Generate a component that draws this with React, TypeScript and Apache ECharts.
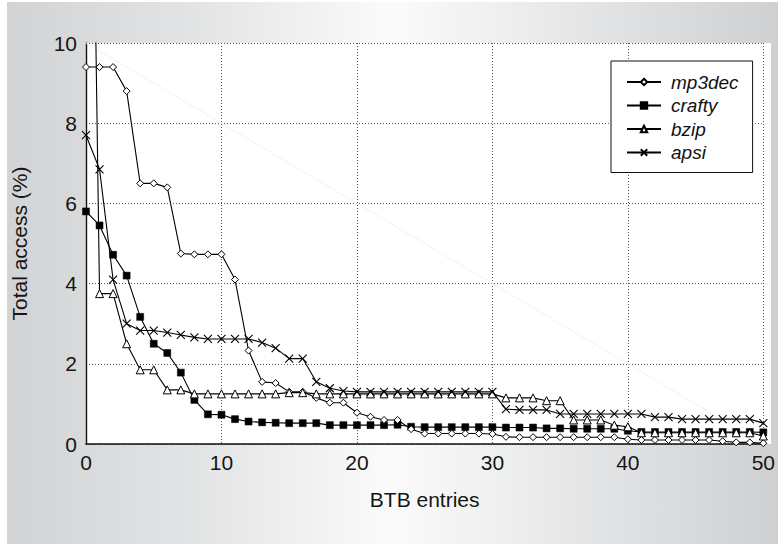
import React, { useEffect, useRef } from "react";
import * as echarts from "echarts";

const FONT = '"Liberation Sans", Arial, Helvetica, sans-serif';

// BTB entries on the x axis
const entries = [
  0, 1, 2, 3, 4, 5, 6, 7, 8, 9, 10, 11, 12, 13, 14, 15, 16, 17, 18, 19, 20,
  21, 22, 23, 24, 25, 26, 27, 28, 29, 30, 31, 32, 33, 34, 35, 36, 37, 38, 39,
  40, 41, 42, 43, 44, 45, 46, 47, 48, 49, 50,
];

// Total access (%) per benchmark
const mp3dec = [
  9.4, 9.4, 9.4, 8.8, 6.5, 6.5, 6.4, 4.75, 4.73, 4.73, 4.73, 4.1, 2.33, 1.55,
  1.52, 1.3, 1.3, 1.15, 1.03, 1.03, 0.78, 0.68, 0.6, 0.6, 0.37, 0.26, 0.26,
  0.26, 0.26, 0.26, 0.25, 0.18, 0.17, 0.17, 0.17, 0.17, 0.17, 0.17, 0.17, 0.17,
  0.12, 0.1, 0.1, 0.1, 0.1, 0.1, 0.1, 0.07, 0.04, 0.04, 0.02,
];
const crafty = [
  5.8, 5.45, 4.72, 4.2, 3.17, 2.5, 2.27, 1.78, 1.1, 0.74, 0.73, 0.62, 0.56,
  0.54, 0.53, 0.52, 0.52, 0.52, 0.47, 0.47, 0.47, 0.47, 0.47, 0.48, 0.43, 0.42,
  0.42, 0.42, 0.42, 0.42, 0.42, 0.41, 0.41, 0.41, 0.39, 0.39, 0.38, 0.38, 0.38,
  0.38, 0.33, 0.3, 0.3, 0.3, 0.3, 0.3, 0.3, 0.3, 0.3, 0.3, 0.29,
];
const bzip = [
  27, 3.75, 3.75, 2.5, 1.85, 1.85, 1.35, 1.35, 1.25, 1.25, 1.25, 1.25, 1.25,
  1.25, 1.25, 1.28, 1.28, 1.25, 1.25, 1.25, 1.25, 1.25, 1.25, 1.25, 1.25, 1.25,
  1.25, 1.25, 1.25, 1.25, 1.25, 1.15, 1.15, 1.15, 1.08, 1.08, 0.6, 0.6, 0.6,
  0.47, 0.43, 0.28, 0.28, 0.28, 0.28, 0.28, 0.28, 0.28, 0.28, 0.28, 0.2,
];
const apsi = [
  7.7, 6.85, 4.1, 3.0, 2.83, 2.83, 2.78, 2.72, 2.66, 2.62, 2.62, 2.62, 2.62,
  2.53, 2.39, 2.13, 2.13, 1.55, 1.39, 1.32, 1.3, 1.3, 1.3, 1.3, 1.3, 1.3, 1.3,
  1.3, 1.3, 1.3, 1.3, 0.87, 0.85, 0.85, 0.85, 0.75, 0.75, 0.75, 0.75, 0.75,
  0.75, 0.75, 0.67, 0.67, 0.62, 0.62, 0.62, 0.62, 0.62, 0.62, 0.52,
];

const xTicks = { min: 0, max: 50, interval: 10 };
const yTicks = { min: 0, max: 10, interval: 2 };

const CROSS = "path://M0 0L10 10M10 0L0 10";

const pairs = (ys: number[]) => entries.map((x, i) => [x, ys[i]]);

export default function App() {
  const ref = useRef<HTMLDivElement>(null);

  useEffect(() => {
    if (!ref.current) return;
    const chart = echarts.init(ref.current, undefined, { renderer: "svg" });

    const lineStyle = { color: "#000", width: 1.1 };
    const openMarker = { color: "#fff", borderColor: "#000", borderWidth: 1 };

    const grid = {
      show: true,
      type: [1, 2] as any,
      color: "#555",
      width: 1,
    };

    chart.setOption({
      animation: false,
      backgroundColor: "transparent",
      textStyle: { fontFamily: FONT },
      grid: { left: 86, right: 7, top: 43, bottom: 100, containLabel: false },
      xAxis: {
        type: "value",
        ...xTicks,
        name: "BTB entries",
        nameLocation: "middle",
        nameGap: 45,
        nameTextStyle: { fontSize: 21, color: "#151515", fontFamily: FONT },
        axisLine: { show: true, onZero: false, lineStyle: { color: "#111", width: 1.6 } },
        axisTick: { show: false },
        axisLabel: { fontSize: 21, color: "#151515", margin: 8, fontFamily: FONT },
        splitLine: { show: true, lineStyle: grid },
      },
      yAxis: {
        type: "value",
        ...yTicks,
        name: "Total access (%)",
        nameLocation: "middle",
        nameGap: 56,
        nameTextStyle: { fontSize: 21, color: "#151515", fontFamily: FONT },
        axisLine: { show: true, onZero: false, lineStyle: { color: "#111", width: 1.4 } },
        axisTick: { show: false },
        axisLabel: { fontSize: 21, color: "#151515", margin: 9, fontFamily: FONT },
        splitLine: { show: true, lineStyle: grid },
      },
      legend: {
        orient: "vertical",
        left: 611,
        top: 61,
        backgroundColor: "#fff",
        borderColor: "#111",
        borderWidth: 1,
        borderRadius: 0,
        padding: [11, 14, 10, 15],
        itemWidth: 34,
        itemHeight: 8,
        itemGap: 3.5,
        textStyle: {
          fontSize: 19,
          fontStyle: "italic",
          color: "#111",
          fontFamily: FONT,
          lineHeight: 20,
          padding: [0, 0, 0, 5],
        },
        data: ["mp3dec", "crafty", "bzip", "apsi"],
      },
      series: [
        {
          name: "mp3dec",
          type: "line",
          data: pairs(mp3dec),
          symbol: "diamond",
          symbolSize: 7,
          showAllSymbol: true,
          lineStyle,
          itemStyle: openMarker,
          z: 4,
          markLine: {
            silent: true,
            symbol: "none",
            label: { show: false },
            lineStyle: { color: "#f2f2f2", width: 1, type: "solid" },
            data: [[{ coord: [xTicks.min, yTicks.max] }, { coord: [xTicks.max, yTicks.min] }]],
            z: 1,
          },
        },
        {
          name: "crafty",
          type: "line",
          data: pairs(crafty),
          symbol: "rect",
          symbolSize: 7,
          showAllSymbol: true,
          lineStyle,
          itemStyle: { color: "#000", borderColor: "#000", borderWidth: 0.5 },
          z: 3,
        },
        {
          name: "bzip",
          type: "line",
          data: pairs(bzip),
          symbol: "triangle",
          symbolSize: 8,
          showAllSymbol: true,
          lineStyle,
          itemStyle: openMarker,
          z: 5,
        },
        {
          name: "apsi",
          type: "line",
          data: pairs(apsi),
          symbol: CROSS,
          symbolSize: 8,
          showAllSymbol: true,
          lineStyle,
          itemStyle: { color: "#000", borderColor: "#000", borderWidth: 1.1 },
          z: 6,
        },
      ],
    });

    return () => chart.dispose();
  }, []);

  return (
    <div
      style={{
        position: "fixed",
        left: 0,
        top: 0,
        width: 778,
        height: 544,
        background:
          "#fff linear-gradient(to right, #d2d3d5 0%, #e3e4e5 25%, #fbfbfb 50%, #e4e5e6 75%, #cfd0d2 100%) no-repeat 7px 2px / 771px 542px",
      }}
    >
      <div
        style={{
          position: "absolute",
          left: 86,
          top: 43,
          width: 685,
          height: 401,
          background: "#fff",
        }}
      />
      <div ref={ref} style={{ position: "absolute", left: 0, top: 0, width: 778, height: 544 }} />
    </div>
  );
}
